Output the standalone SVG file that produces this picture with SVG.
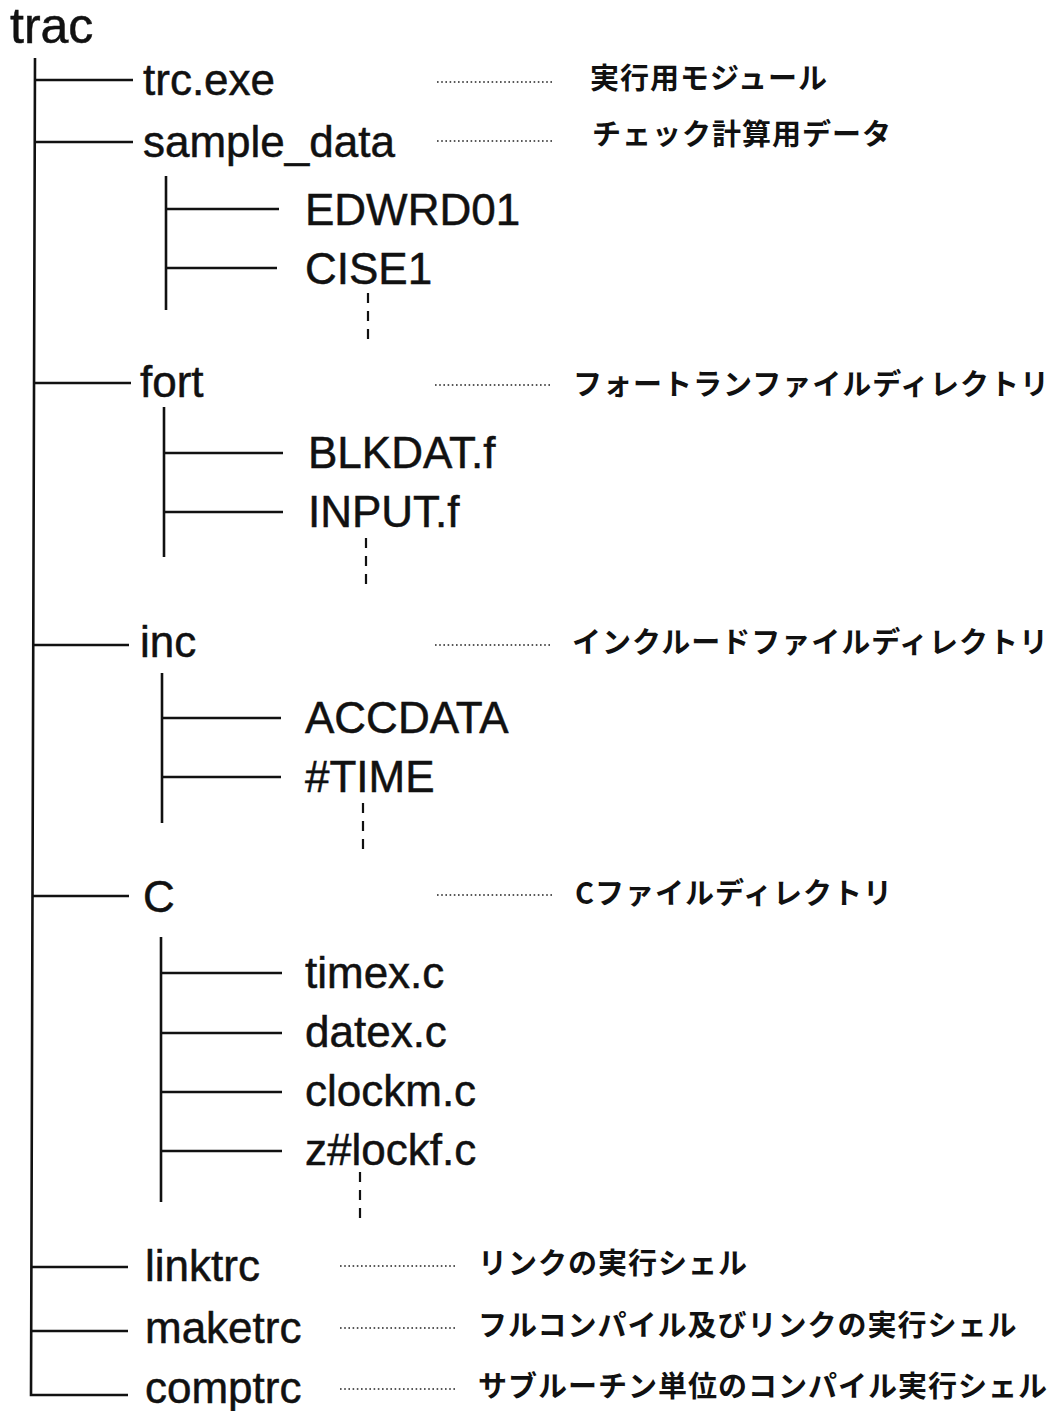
<svg xmlns="http://www.w3.org/2000/svg" width="1059" height="1411" viewBox="0 0 1059 1411">
  <style>
    .tree { stroke: #111; stroke-width: 2.6; fill: none; stroke-linecap: butt; }
    .dash { stroke: #111; stroke-width: 2.2; fill: none; stroke-dasharray: 10 8; }
    .lead { stroke: #222; stroke-width: 1.5; fill: none; stroke-dasharray: 1.6 2.6; }
    .name { font-family: "Liberation Sans", Arial, Helvetica, sans-serif; font-size: 44px; fill: #111; stroke: #111; stroke-width: 0.5; }
    .root { font-family: "Liberation Sans", Arial, Helvetica, sans-serif; font-size: 50px; fill: #111; stroke: #111; stroke-width: 0.5; }
    .note { font-family: "Noto Sans CJK JP", "Noto Sans CJK SC", sans-serif; font-size: 29px; font-weight: 700; letter-spacing: 1px; fill: #111; }
  </style>
  <rect width="1059" height="1411" fill="#fff"/>

  <!-- connectors: trunk, branches, continuation marks and leaders -->
  <g id="connectors">
    <!-- main trunk -->
    <path class="tree" d="M35 58 L31 1395 L128 1395"/>
    <path class="tree" d="M35 80 H133"/>
    <path class="tree" d="M35 142 H133"/>
    <path class="tree" d="M34 383 H131"/>
    <path class="tree" d="M33 645 H129"/>
    <path class="tree" d="M33 896 H129"/>
    <path class="tree" d="M31 1267 H128"/>
    <path class="tree" d="M31 1331 H128"/>

    <!-- sample_data subtree -->
    <path class="tree" d="M166 176 V310"/>
    <path class="tree" d="M166 209 H279"/>
    <path class="tree" d="M166 268 H277"/>
    <path class="dash" d="M368 293 V347"/>

    <!-- fort subtree -->
    <path class="tree" d="M164 407 V557"/>
    <path class="tree" d="M164 453 H283"/>
    <path class="tree" d="M164 512 H283"/>
    <path class="dash" d="M366 538 V590"/>

    <!-- inc subtree -->
    <path class="tree" d="M162 673 V823"/>
    <path class="tree" d="M162 718 H281"/>
    <path class="tree" d="M162 777 H281"/>
    <path class="dash" d="M363 803 V857"/>

    <!-- C subtree -->
    <path class="tree" d="M161 937 V1202"/>
    <path class="tree" d="M161 973 H282"/>
    <path class="tree" d="M161 1033 H282"/>
    <path class="tree" d="M161 1092 H282"/>
    <path class="tree" d="M161 1151 H282"/>
    <path class="dash" d="M360 1172 V1225"/>

    <!-- dotted leaders to descriptions -->
    <path class="lead" d="M437 82 H552"/>
    <path class="lead" d="M437 141 H552"/>
    <path class="lead" d="M435 385 H550"/>
    <path class="lead" d="M435 645 H550"/>
    <path class="lead" d="M437 895 H552"/>
    <path class="lead" d="M340 1266 H457"/>
    <path class="lead" d="M340 1328 H457"/>
    <path class="lead" d="M340 1389 H457"/>
  </g>

  <g id="trac"><text class="root" x="10" y="43">trac</text></g>

  <g id="trc_exe">
    <text class="name" x="143" y="95">trc.exe</text>
    <text class="note" x="590" y="89">実行用モジュール</text>
  </g>
  <g id="sample_data">
    <text class="name" x="143" y="157">sample_data</text>
    <text class="note" x="592" y="145">チェック計算用データ</text>
  </g>
  <g id="EDWRD01"><text class="name" x="305" y="225">EDWRD01</text></g>
  <g id="CISE1"><text class="name" x="305" y="284">CISE1</text></g>

  <g id="fort">
    <text class="name" x="140" y="397">fort</text>
    <text class="note" x="573" y="395">フォートランファイルディレクトリ</text>
  </g>
  <g id="BLKDAT_f"><text class="name" x="308" y="468">BLKDAT.f</text></g>
  <g id="INPUT_f"><text class="name" x="308" y="527">INPUT.f</text></g>

  <g id="inc">
    <text class="name" x="140" y="657">inc</text>
    <text class="note" x="572" y="653">インクルードファイルディレクトリ</text>
  </g>
  <g id="ACCDATA"><text class="name" x="305" y="733">ACCDATA</text></g>
  <g id="TIME"><text class="name" x="305" y="792">#TIME</text></g>

  <g id="C">
    <text class="name" x="143" y="912">C</text>
    <text class="note" x="575" y="904">Cファイルディレクトリ</text>
  </g>
  <g id="timex_c"><text class="name" x="305" y="988">timex.c</text></g>
  <g id="datex_c"><text class="name" x="305" y="1047">datex.c</text></g>
  <g id="clockm_c"><text class="name" x="305" y="1106">clockm.c</text></g>
  <g id="zlockf_c"><text class="name" x="305" y="1165">z#lockf.c</text></g>

  <g id="linktrc">
    <text class="name" x="145" y="1281">linktrc</text>
    <text class="note" x="478" y="1274">リンクの実行シェル</text>
  </g>
  <g id="maketrc">
    <text class="name" x="145" y="1343">maketrc</text>
    <text class="note" x="478" y="1336">フルコンパイル及びリンクの実行シェル</text>
  </g>
  <g id="comptrc">
    <text class="name" x="145" y="1403">comptrc</text>
    <text class="note" x="478" y="1397">サブルーチン単位のコンパイル実行シェル</text>
  </g>
</svg>
